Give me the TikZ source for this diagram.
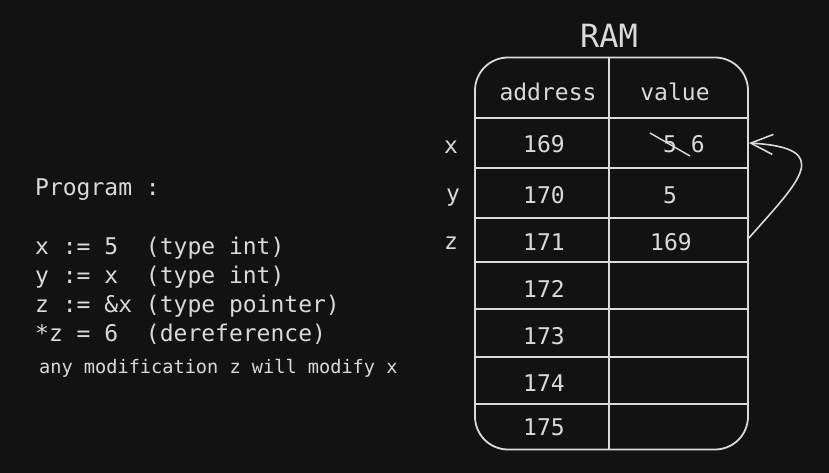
\documentclass[tikz,border=0pt]{standalone}
\usepackage{fontspec}
\setmonofont{DejaVu Sans Mono}
\usetikzlibrary{arrows.meta}
\definecolor{bg}{HTML}{121212}
\definecolor{ink}{HTML}{DADADA}
\tikzset{
  txt/.style={text=ink, font=\ttfamily\fontsize{23}{29}\selectfont, inner sep=0pt, anchor=base},
  code/.style={txt, anchor=base west},
  frame/.style={draw=ink, line width=1.8pt, rounded corners=33pt, minimum width=273pt, minimum height=392pt},
  grid/.style={draw=ink, line width=1.8pt},
  ptr/.style={draw=ink, line width=1.6pt, -{Straight Barb[length=22pt, width=20pt, line width=1.6pt]}}
}

\begin{document}
\begin{tikzpicture}[x=1pt, y=-1pt]
  \fill[bg] (0,0) rectangle (829,473);
  \useasboundingbox (0,0) rectangle (829,473);
  % program text
  \node[code] (prog) at (35,196) {Program :};
  \node[code] (l1) at (35,254) {x := 5\ \ (type int)};
  \node[code] (l2) at (35,283) {y := x\ \ (type int)};
  \node[code] (l3) at (35,312) {z := \&x (type pointer)};
  \node[code] (l4) at (35,341) {*z = 6\ \ (dereference)};
  \node[code, font=\ttfamily\fontsize{18.6}{22}\selectfont] (note) at (39,373)
    {any modification z will modify x};
  % memory table
  \node[txt, font=\ttfamily\fontsize{32}{36}\selectfont] (ram) at (609,48) {RAM};
  \node[frame] (tbl) at (611.5,253.5) {};
  \draw[grid] (tbl.north -| 609,0) -- (tbl.south -| 609,0);
  \foreach \y in {118,168,218,262,309,357,404}
    \draw[grid] (tbl.west |- 0,\y) -- (tbl.east |- 0,\y);
  \node[txt] (haddr) at (548,101) {address};
  \node[txt] (hval)  at (675,101) {value};
  \foreach \a/\y in {169/153,170/203,171/250,172/297,173/344,174/391,175/435}
    \node[txt] (a\a) at (544,\y) {\a};
  % values
  \node[txt] (v169) at (684,153) {5 6};
  \node[txt] (v170) at (670,203) {5};
  \node[txt] (v171) at (671,250) {169};
  \draw[grid, line width=1.4pt] (650,133) -- (690,156);
  % variable names
  \node[txt] (vx) at (451,154) {x};
  \node[txt] (vy) at (453,201) {y};
  \node[txt] (vz) at (451,249) {z};
  % pointer
  \coordinate (p169) at (tbl.east |- 0,143);
  \coordinate (p171) at (tbl.east |- 0,238);
  \draw[ptr] (p171) .. controls (800,180) and (835,148) .. (p169);
\end{tikzpicture}
\end{document}
